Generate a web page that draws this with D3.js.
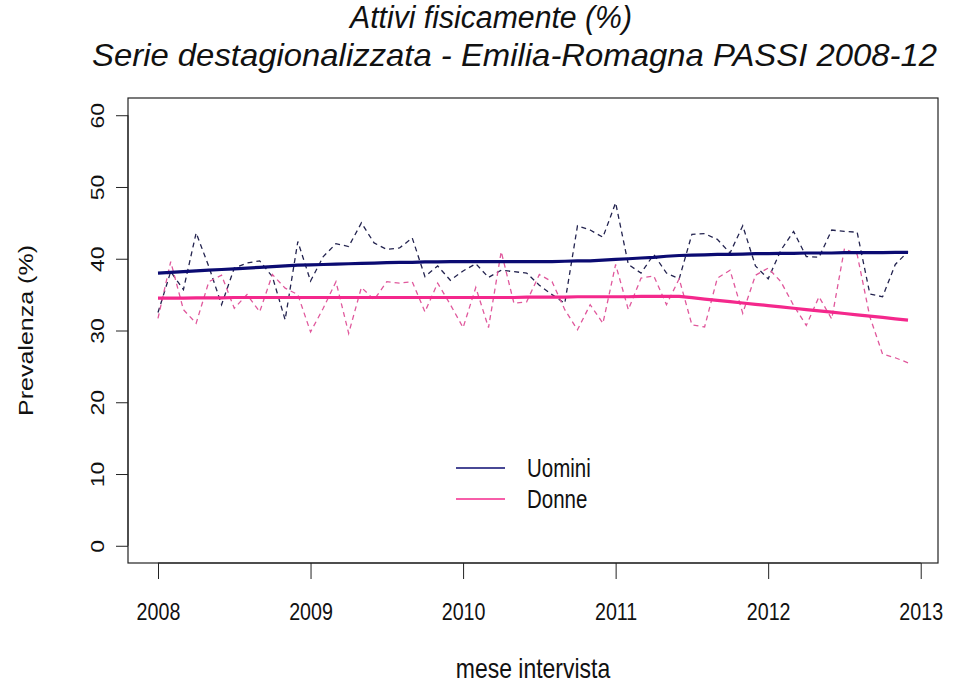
<!DOCTYPE html>
<html>
<head>
<meta charset="utf-8">
<script src="https://cdn.jsdelivr.net/npm/d3@7/dist/d3.min.js"></script>
<style>
  html, body { margin: 0; padding: 0; background: #ffffff; }
  svg { display: block; font-family: "Liberation Sans", Arial, Helvetica, sans-serif; }
</style>
</head>
<body>
<svg id="chart" width="960" height="687"></svg>
<script>
// ---- data ----
const startYear = 2008;               // first month = Jan 2008, monthly data
const yearTicks = [2008, 2009, 2010, 2011, 2012, 2013];
const yTicks = [0, 10, 20, 30, 40, 50, 60];
const seriesNames = ["Uomini", "Donne"];

// monthly observed prevalence (dashed)
const uominiObs = [32.5, 38.2, 35.7, 43.6, 38.9, 33.6, 38.7, 39.4, 39.7, 37.5, 31.5, 42.4,
                   36.9, 40.3, 42.1, 41.7, 45.0, 42.2, 41.3, 41.5, 42.9, 37.5, 39.0, 37.0,
                   38.3, 39.3, 37.4, 38.4, 38.2, 38.0, 36.3, 35.0, 33.8, 44.6, 44.0, 43.0,
                   47.8, 39.2, 38.0, 40.6, 38.0, 37.2, 43.4, 43.5, 42.7, 40.8, 44.6, 39.0,
                   37.2, 41.2, 43.8, 40.3, 40.2, 44.0, 43.8, 43.7, 35.1, 34.7, 39.2, 41.0];
const donneObs  = [31.7, 39.6, 32.9, 31.0, 36.8, 37.7, 33.1, 35.0, 32.6, 37.8, 35.9, 35.0,
                   29.8, 33.1, 36.8, 29.6, 36.0, 34.3, 36.8, 36.6, 36.8, 32.6, 36.6, 33.6,
                   30.4, 36.0, 30.4, 41.0, 33.8, 34.0, 37.8, 36.8, 32.9, 30.1, 33.6, 31.0,
                   39.2, 32.9, 37.3, 37.6, 33.6, 37.2, 30.8, 30.5, 37.3, 38.4, 32.4, 37.7,
                   38.7, 36.8, 33.5, 30.7, 34.7, 31.6, 41.4, 40.6, 31.9, 26.7, 26.2, 25.5];

// monthly trend (solid)
const uominiTrend = [38.0, 38.1, 38.2, 38.3, 38.4, 38.5, 38.6, 38.7, 38.8, 38.9, 39.0, 39.1,
                     39.15, 39.2, 39.25, 39.3, 39.35, 39.4, 39.45, 39.5, 39.5, 39.55, 39.55, 39.6,
                     39.6, 39.6, 39.6, 39.6, 39.6, 39.6, 39.6, 39.6, 39.65, 39.7, 39.7, 39.8,
                     39.9, 40.0, 40.1, 40.2, 40.35, 40.45, 40.5, 40.55, 40.6, 40.6, 40.65, 40.7,
                     40.7, 40.75, 40.75, 40.8, 40.8, 40.8, 40.85, 40.85, 40.85, 40.85, 40.9, 40.9];
const donneTrend  = [34.5, 34.5, 34.5, 34.55, 34.55, 34.55, 34.6, 34.6, 34.6, 34.6, 34.6, 34.6,
                     34.6, 34.6, 34.6, 34.6, 34.6, 34.6, 34.6, 34.6, 34.6, 34.6, 34.6, 34.6,
                     34.6, 34.6, 34.6, 34.6, 34.6, 34.65, 34.65, 34.65, 34.65, 34.7, 34.7, 34.7,
                     34.7, 34.7, 34.75, 34.75, 34.75, 34.75, 34.57, 34.38, 34.2, 34.02, 33.83, 33.65,
                     33.47, 33.28, 33.1, 32.92, 32.73, 32.55, 32.37, 32.18, 32.0, 31.82, 31.63, 31.45];

const titleLine1 = "Attivi fisicamente (%)";
const titleLine2 = "Serie destagionalizzata - Emilia-Romagna PASSI 2008-12";
const xLabel = "mese intervista";
const yLabel = "Prevalenza (%)";

// ---- styles ----
const navy = "#0b0b72";
const navyDash = "#23234f";
const pink = "#f4288c";
const pinkDash = "#e0589c";
const sx = 0.82;   // horizontal condensation of the reference's type

const svg = d3.select("#chart");
const box = { left: 128, right: 938, top: 98, bottom: 563 };

const nMonths = uominiObs.length;
const lastT = startYear + (nMonths - 1) / 12;
const padX = (lastT - startYear) * 0.04;
const x = d3.scaleLinear().domain([startYear - padX, lastT + padX]).range([box.left, box.right]);
const y = d3.scaleLinear().domain([-2.4, 62.4]).range([box.bottom, box.top]);

const t = i => startYear + i / 12;
const line = d3.line().x((d, i) => x(t(i))).y(d => y(d));

// dashed observed series
svg.append("path").datum(uominiObs).attr("d", line)
  .attr("fill", "none").attr("stroke", navyDash).attr("stroke-width", 1.3)
  .attr("stroke-dasharray", "5,4");
svg.append("path").datum(donneObs).attr("d", line)
  .attr("fill", "none").attr("stroke", pinkDash).attr("stroke-width", 1.3)
  .attr("stroke-dasharray", "5,4");

// solid trends
svg.append("path").datum(uominiTrend).attr("d", line)
  .attr("fill", "none").attr("stroke", navy).attr("stroke-width", 3.2);
svg.append("path").datum(donneTrend).attr("d", line)
  .attr("fill", "none").attr("stroke", pink).attr("stroke-width", 3.2);

// box
svg.append("rect")
  .attr("x", box.left).attr("y", box.top)
  .attr("width", box.right - box.left).attr("height", box.bottom - box.top)
  .attr("fill", "none").attr("stroke", "#222").attr("stroke-width", 1.2);

// x axis
const gx = svg.append("g").attr("transform", `translate(0,${box.bottom})`)
  .call(d3.axisBottom(x).tickValues(yearTicks).tickFormat(d3.format("d"))
        .tickSize(16).tickSizeOuter(0));
gx.select(".domain").attr("stroke", "#222").attr("d", `M${x(yearTicks[0])},0H${x(yearTicks[yearTicks.length-1])}`);
gx.selectAll(".tick line").attr("stroke", "#222");
gx.selectAll(".tick text").attr("y", 57).attr("dy", 0)
  .attr("transform", `scale(${sx},1)`)
  .attr("font-size", 24).attr("fill", "#111")
  .attr("font-family", "Liberation Sans, Arial, sans-serif");

// y axis
const gy = svg.append("g").attr("transform", `translate(${box.left},0)`)
  .call(d3.axisLeft(y).tickValues(yTicks).tickSize(12).tickSizeOuter(0));
gy.select(".domain").attr("stroke", "#222").attr("d", `M0,${y(yTicks[0])}V${y(yTicks[yTicks.length-1])}`);
gy.selectAll(".tick line").attr("stroke", "#222");
gy.selectAll(".tick text")
  .attr("transform", `scale(${sx},1) rotate(-90)`)
  .attr("x", 0).attr("y", -24 / sx).attr("dy", 0)
  .attr("text-anchor", "middle")
  .attr("font-size", 23).attr("fill", "#111")
  .attr("font-family", "Liberation Sans, Arial, sans-serif");

// axis titles
svg.append("text")
  .attr("transform", `translate(${(box.left + box.right) / 2},678) scale(${sx},1)`)
  .attr("text-anchor", "middle").attr("font-size", 28).attr("fill", "#111")
  .text(xLabel);
svg.append("text")
  .attr("transform", `translate(33,${(box.top + box.bottom) / 2}) scale(${sx},1) rotate(-90)`)
  .attr("text-anchor", "middle").attr("font-size", 25).attr("fill", "#111")
  .text(yLabel);

// titles
svg.append("text").attr("x", 350).attr("y", 28)
  .attr("font-size", 31).attr("font-style", "italic").attr("fill", "#111")
  .attr("textLength", 282).attr("lengthAdjust", "spacingAndGlyphs")
  .text(titleLine1);
svg.append("text").attr("x", 92).attr("y", 66)
  .attr("font-size", 32).attr("font-style", "italic").attr("fill", "#111")
  .attr("textLength", 845).attr("lengthAdjust", "spacingAndGlyphs")
  .text(titleLine2);

// legend
const legend = [
  { name: seriesNames[0], color: navy, yy: 468 },
  { name: seriesNames[1], color: pink, yy: 499 }
];
const lg = svg.append("g");
legend.forEach(d => {
  lg.append("line").attr("x1", 456).attr("x2", 505).attr("y1", d.yy).attr("y2", d.yy)
    .attr("stroke", d.color).attr("stroke-width", 1.6);
  lg.append("text").attr("transform", `translate(527,${d.yy + 9}) scale(${sx},1)`)
    .attr("font-size", 25).attr("fill", "#111").text(d.name);
});
</script>
</body>
</html>
